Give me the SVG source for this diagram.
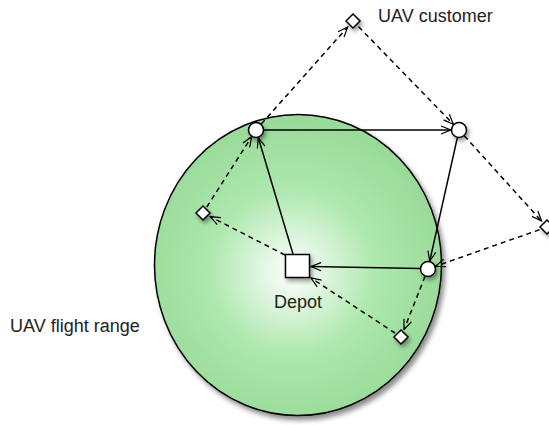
<svg xmlns="http://www.w3.org/2000/svg" width="549" height="425" viewBox="0 0 549 425">
<defs>
<radialGradient id="g" cx="292" cy="272" r="150" gradientUnits="userSpaceOnUse">
<stop offset="0" stop-color="#ffffff"/>
<stop offset="0.55" stop-color="#aee8ae"/>
<stop offset="1" stop-color="#9adb9a"/>
</radialGradient>
<filter id="sh" x="-20%" y="-20%" width="150%" height="150%">
<feDropShadow dx="3" dy="4" stdDeviation="2.5" flood-color="#000" flood-opacity="0.45"/>
</filter>
<filter id="shs" x="-100%" y="-100%" width="300%" height="300%">
<feDropShadow dx="2" dy="3" stdDeviation="2" flood-color="#000" flood-opacity="0.4"/>
</filter>
<marker id="arr" viewBox="0 0 12 10" refX="11" refY="5" markerWidth="12" markerHeight="10" markerUnits="userSpaceOnUse" orient="auto">
<path d="M1,1 L11,5 L1,9" fill="none" stroke="#000" stroke-width="1.2"/>
</marker>
</defs>
<style>
.t{font-family:"Liberation Sans",Arial,sans-serif;font-size:18px;fill:#222}
.n{fill:#fff;stroke:#000;stroke-width:1.5}
.s{fill:none;stroke:#000;stroke-width:1.5;marker-end:url(#arr)}
.d{fill:none;stroke:#000;stroke-width:1.5;stroke-dasharray:5 4;marker-end:url(#arr)}
</style>
<g id="range">
<ellipse cx="298" cy="265" rx="143.5" ry="150.5" fill="url(#g)" stroke="#000" stroke-width="1.5" filter="url(#sh)"/>
<text class="t" x="10" y="332">UAV flight range</text>
</g>
<g id="connectors">
<line class="s" x1="293" y1="254" x2="258.3" y2="137.7"/>
<line class="s" x1="264" y1="130" x2="451" y2="130"/>
<line class="s" x1="457.3" y1="137.8" x2="429.7" y2="261.2"/>
<line class="s" x1="420" y1="268.5" x2="311" y2="266.5"/>
<line class="d" x1="261.3" y1="124" x2="347.7" y2="27"/>
<line class="d" x1="358.6" y1="26.7" x2="453.4" y2="124.3"/>
<line class="d" x1="464.4" y1="135.9" x2="541.6" y2="221.1"/>
<line class="d" x1="539.5" y1="229.7" x2="435.5" y2="266.3"/>
<line class="d" x1="425" y1="276.4" x2="404" y2="329.6"/>
<line class="d" x1="395" y1="333" x2="311" y2="278"/>
<line class="d" x1="285" y1="255" x2="210.2" y2="216.6"/>
<line class="d" x1="206.8" y1="207" x2="251.7" y2="136.7"/>
</g>
<g id="depot">
<rect class="n" x="285.5" y="254.5" width="24" height="23" filter="url(#shs)"/>
<text class="t" x="298" y="308" text-anchor="middle">Depot</text>
</g>
<g id="nodeA"><circle class="n" cx="256" cy="130" r="7.5" filter="url(#shs)"/></g>
<g id="nodeB"><circle class="n" cx="459" cy="130" r="7.5" filter="url(#shs)"/></g>
<g id="nodeC"><circle class="n" cx="428" cy="269" r="7.5" filter="url(#shs)"/></g>
<g id="customer1">
<path class="n" d="M353,14 L360,21 L353,28 L346,21 Z" filter="url(#shs)"/>
<text class="t" x="378" y="22">UAV customer</text>
</g>
<g id="customer2"><path class="n" d="M203,206 L210,213 L203,220 L196,213 Z" filter="url(#shs)"/></g>
<g id="customer3"><path class="n" d="M401,330 L408,337 L401,344 L394,337 Z" filter="url(#shs)"/></g>
<g id="customer4"><path class="n" d="M547,220 L554,227 L547,234 L540,227 Z" filter="url(#shs)"/></g>
</svg>
